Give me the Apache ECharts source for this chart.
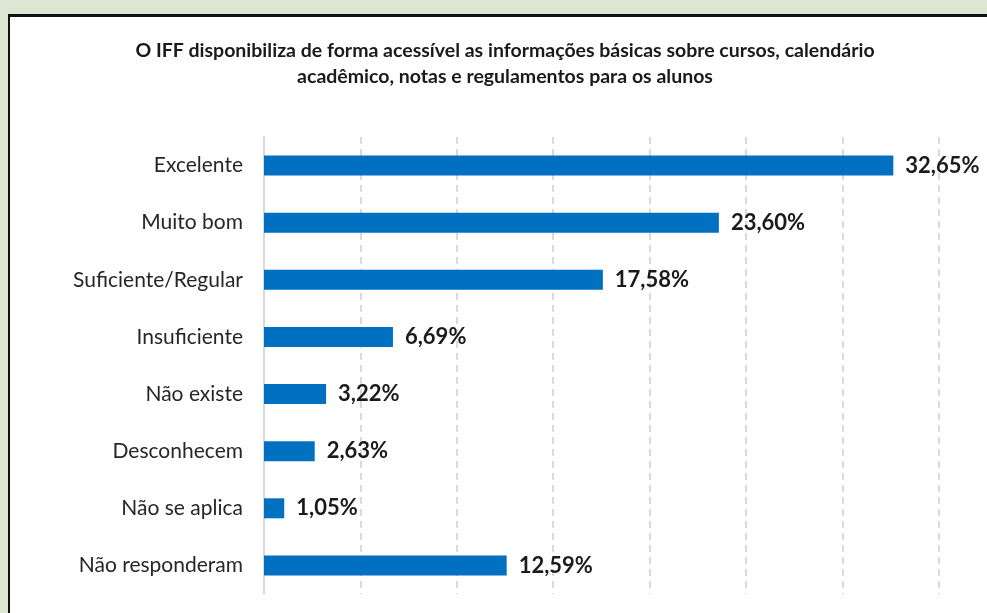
<!DOCTYPE html>
<html>
<head>
<meta charset="utf-8">
<script src="https://cdn.jsdelivr.net/npm/echarts@6/dist/echarts.min.js"></script>
<style>
html, body {
  margin: 0;
  padding: 0;
  width: 987px;
  height: 613px;
  overflow: hidden;
  background: #dce6d3;
  position: relative;
}
.panel {
  position: absolute;
  left: 8px;
  top: 14px;
  width: 1100px;
  height: 620px;
  background: #fff;
  border-left: 2px solid #111;
  border-top: 3px solid #111;
}
/* chart is wider than the window: the picture is cropped on the right */
#chart {
  position: absolute;
  left: 0;
  top: 0;
  width: 1100px;
  height: 613px;
}
</style>
</head>
<body>
<div class="panel"></div>
<div id="chart"></div>
<script>
var titleText = 'O IFF disponibiliza de forma acessível as informações básicas sobre cursos, calendário\nacadêmico, notas e regulamentos para os alunos'
var categories = ['Excelente', 'Muito bom', 'Suficiente/Regular', 'Insuficiente', 'Não existe', 'Desconhecem', 'Não se aplica', 'Não responderam']
var percentages = [32.65, 23.60, 17.58, 6.69, 3.22, 2.63, 1.05, 12.59]

var chart = echarts.init(document.getElementById('chart'))
chart.setOption({
  backgroundColor: 'transparent',
  animation: false,
  textStyle: {
    fontFamily: 'Lato, "Open Sans", sans-serif'
  },
  title: {
    text: titleText,
    left: 500,
    textAlign: 'center',
    top: 33,
    textStyle: {
      fontSize: 19.5,
      fontWeight: 'bold',
      color: '#1a1a1a',
      lineHeight: 26
    }
  },
  grid: {
    left: 264,
    top: 137,
    width: 771,
    height: 457,
    containLabel: false
  },
  xAxis: {
    type: 'value',
    min: 0,
    max: 40,
    interval: 5,
    axisLabel: { show: false },
    axisLine: { show: false },
    axisTick: { show: false },
    splitLine: {
      show: true,
      lineStyle: { color: '#d9d9d9', width: 2, type: [7, 5] }
    }
  },
  yAxis: {
    type: 'category',
    inverse: true,
    data: categories,
    axisTick: { show: false },
    axisLine: { show: true, lineStyle: { color: '#d9d9d9', width: 2 } },
    axisLabel: {
      margin: 21,
      fontSize: 21,
      color: '#262626'
    }
  },
  series: [
    {
      type: 'bar',
      data: percentages,
      barWidth: 20,
      itemStyle: { color: '#0070c0' },
      label: {
        show: true,
        position: 'right',
        distance: 12,
        fontSize: 22,
        fontWeight: 'bold',
        color: '#1a1a1a',
        formatter: function (p) {
          return p.value.toFixed(2).replace('.', ',') + '%'
        }
      }
    }
  ]
})
</script>
</body>
</html>
